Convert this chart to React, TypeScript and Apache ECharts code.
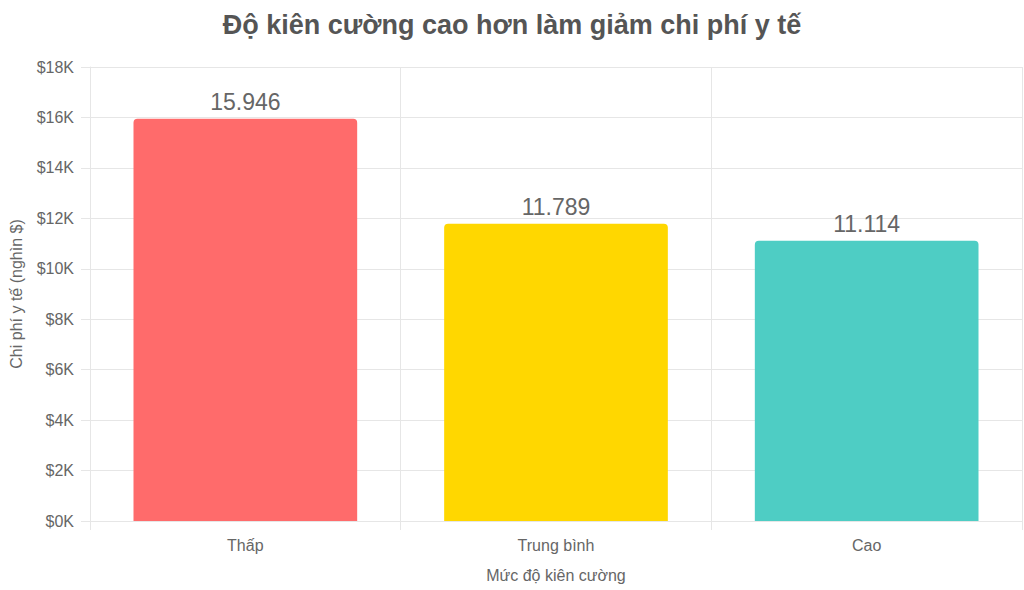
import React, { useEffect, useRef } from "react";
import * as echarts from "echarts";

const title = "Độ kiên cường cao hơn làm giảm chi phí y tế";
const categories = ["Thấp", "Trung bình", "Cao"];
const values = [15946, 11789, 11114];
const colors = ["#FF6B6B", "#FFD700", "#4ECDC4"];
const xName = "Mức độ kiên cường";
const yName = "Chi phí y tế (nghìn $)";

const FONT = "'Liberation Sans', Arial, Helvetica, sans-serif";
const GRID = "#e6e6e6";

export default function App() {
  const ref = useRef<HTMLDivElement>(null);
  useEffect(() => {
    if (!ref.current) return;
    const chart = echarts.init(ref.current, null, { renderer: "svg" });
    chart.setOption({
      animation: false,
      textStyle: { fontFamily: FONT },
      title: {
        text: title,
        left: "center",
        top: 6,
        textStyle: { fontFamily: FONT, fontSize: 27, fontWeight: "bold", color: "#555" },
      },
      grid: { left: 88, right: 2, top: 67, bottom: 69, containLabel: false },
      xAxis: {
        type: "category",
        data: categories,
        name: xName,
        nameLocation: "middle",
        nameGap: 46,
        nameTextStyle: { fontFamily: FONT, fontSize: 16, color: "#666" },
        axisLine: { show: true, lineStyle: { color: GRID } },
        axisTick: { show: true, length: 9, lineStyle: { color: GRID } },
        axisLabel: { fontFamily: FONT, fontSize: 16, color: "#666", margin: 16 },
        splitLine: { show: true, lineStyle: { color: GRID } },
      },
      yAxis: {
        type: "value",
        min: 0,
        max: 18000,
        interval: 2000,
        name: yName,
        nameLocation: "middle",
        nameGap: 66,
        nameTextStyle: { fontFamily: FONT, fontSize: 16, color: "#666" },
        axisLine: { show: true, lineStyle: { color: GRID } },
        axisTick: { show: true, length: 9, lineStyle: { color: GRID } },
        axisLabel: {
          fontFamily: FONT,
          fontSize: 16,
          color: "#666",
          margin: 16,
          formatter: (v: number) => "$" + v / 1000 + "K",
        },
        splitLine: { show: true, lineStyle: { color: GRID } },
      },
      series: [
        {
          type: "bar",
          barWidth: "72%",
          data: values.map((v, i) => ({ value: v, itemStyle: { color: colors[i] } })),
          itemStyle: { borderRadius: [4, 4, 0, 0] },
          label: {
            show: true,
            position: "top",
            distance: 5,
            fontFamily: FONT,
            fontSize: 23,
            color: "#666",
            formatter: (p: any) => Number(p.value).toLocaleString("de-DE"),
          },
        },
      ],
    });
    return () => chart.dispose();
  }, []);
  return (
    <div
      ref={ref}
      style={{ position: "fixed", left: 0, top: 0, width: 1024, height: 590, background: "#fff" }}
    />
  );
}
